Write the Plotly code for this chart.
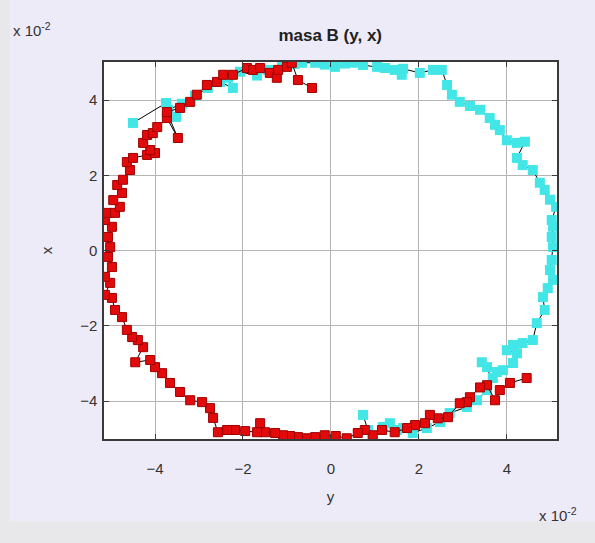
import plotly.graph_objects as go

# values in units of 1e-2
# cyan series: horizontal "y", vertical "x"
cyan_y = [-4.50, -3.75, -3.52, -3.70, -3.39, -3.09, -2.80, -2.52, -2.23, -2.34,
          -2.07, -1.68, -1.43, -1.11, -0.82, -0.66, -0.36, -0.14, 0.09, 0.32,
          0.50, 0.73, 1.05, 1.23, 1.45, 1.61, 1.64, 2.02, 2.32, 2.52,
          2.64, 2.75, 2.93, 3.16, 3.39, 3.61, 3.73, 3.84, 4.00, 4.23,
          4.41, 4.23, 4.36, 4.59, 4.75, 4.86, 4.98, 5.12, 5.02, 5.05,
          5.02, 5.05, 5.02, 4.98, 5.05, 4.93, 4.82, 4.86, 4.68, 4.59,
          4.36, 4.14, 4.00, 4.23, 4.14, 3.91, 3.77, 3.55, 3.43, 3.68,
          3.55, 3.32, 3.09, 2.70, 2.48, 2.18, 1.86, 1.64, 1.50, 1.34,
          1.18, 0.95, 0.84, 0.73]
cyan_x = [3.39, 3.92, 3.55, 3.74, 3.90, 4.11, 4.32, 4.48, 4.32, 4.59,
          4.75, 4.65, 4.80, 4.91, 4.96, 4.99, 4.99, 4.94, 4.88, 4.97,
          4.99, 4.93, 4.88, 4.85, 4.80, 4.67, 4.83, 4.72, 4.80, 4.80,
          4.40, 4.14, 3.95, 3.84, 3.74, 3.52, 3.34, 3.20, 2.93, 2.86,
          2.89, 2.46, 2.27, 2.14, 1.80, 1.61, 1.35, 1.16, 0.81, 0.63,
          0.36, 0.09, -0.25, -0.52, -0.78, -1.00, -1.24, -1.58, -1.93, -2.38,
          -2.46, -2.51, -2.65, -2.73, -2.99, -3.18, -3.23, -3.10, -2.97, -3.39,
          -3.71, -3.98, -4.16, -4.32, -4.56, -4.72, -4.85, -4.72, -4.77, -4.59,
          -4.69, -4.91, -4.77, -4.37]

# red series
red_y = [4.45, 4.07, 3.84, 3.73, 3.55, 3.39, 3.16, 3.09, 2.93, 2.66,
         2.43, 2.25, 2.14, 1.91, 1.73, 1.45, 1.16, 0.95, 0.77, 0.61,
         0.36, 0.11, -0.14, -0.36, -0.55, -0.75, -0.93, -1.09, -1.27, -1.50,
         -1.61, -1.68, -1.95, -2.18, -2.36, -2.57, -2.68, -2.75, -2.93, -3.20,
         -3.43, -3.66, -3.84, -4.00, -4.11, -4.45, -4.27, -4.39, -4.52, -4.64,
         -4.75, -4.91, -4.98, -5.14, -5.02, -5.14, -4.98, -5.07, -5.02, -5.07,
         -4.98, -5.14, -5.09, -4.91, -4.80, -4.95, -4.75, -4.86, -4.73, -4.57,
         -4.64, -4.50, -4.18, -4.00, -4.11, -4.27, -4.18, -4.05, -3.95, -3.73,
         -3.48, -3.73, -3.43, -3.20, -3.05, -2.82, -2.59, -2.45, -2.23, -1.91,
         -1.77, -1.61, -1.39, -1.23, -1.20, -1.00, -0.89, -0.75, -0.43]
red_x = [-3.39, -3.52, -3.71, -3.98, -3.58, -3.64, -3.90, -4.03, -4.06, -4.43,
         -4.46, -4.37, -4.59, -4.64, -4.72, -4.83, -4.77, -4.91, -4.77, -4.85,
         -4.99, -4.93, -4.91, -4.96, -4.99, -4.96, -4.93, -4.91, -4.85, -4.83,
         -4.59, -4.83, -4.80, -4.77, -4.77, -4.83, -4.45, -4.19, -4.03, -3.98,
         -3.76, -3.52, -3.26, -3.10, -2.91, -2.97, -2.57, -2.38, -2.30, -2.11,
         -1.77, -1.58, -1.26, -1.18, -0.86, -0.70, -0.44, -0.17, 0.09, 0.36,
         0.63, 0.81, 1.00, 1.00, 1.16, 1.34, 1.53, 1.74, 1.88, 2.14,
         2.35, 2.46, 2.54, 2.59, 2.67, 2.86, 3.07, 3.12, 3.28, 3.52,
         2.99, 3.68, 3.79, 3.95, 4.14, 4.40, 4.48, 4.67, 4.67, 4.85,
         4.80, 4.85, 4.72, 4.59, 4.80, 4.88, 4.99, 4.53, 4.32]

tick_vals = [-4, -2, 0, 2, 4]

fig = go.Figure()
fig.add_trace(go.Scatter(
    x=cyan_y, y=cyan_x, mode="lines+markers",
    line=dict(color="black", width=1),
    marker=dict(symbol="square", size=10, color="#42E6E6", line=dict(width=0)),
))
fig.add_trace(go.Scatter(
    x=red_y, y=red_x, mode="lines+markers",
    line=dict(color="black", width=1),
    marker=dict(symbol="square", size=9, color="#E20A0A", line=dict(color="#A00000", width=1)),
))

axis_common = dict(
    showgrid=True, gridcolor="#B4B4B4", gridwidth=1,
    showline=True, linecolor="#3A3A3A", linewidth=1.5, mirror="ticks",
    ticks="inside", ticklen=5, tickcolor="#3A3A3A",
    tickvals=tick_vals, zeroline=False, automargin=False,
    tickfont=dict(family="Liberation Sans, Arial", size=15, color="#333333"),
)

fig.update_layout(
    width=595, height=543,
    margin=dict(l=104, r=38, t=62, b=104),
    paper_bgcolor="#EEEBF8", plot_bgcolor="white",
    showlegend=False,
    font=dict(family="Liberation Sans, Arial", color="#333333"),
    title=dict(text="<b>masa B (y, x)</b>", x=0.555, xanchor="center",
               y=0.935, yanchor="middle",
               font=dict(size=17, color="#222222")),
    xaxis=dict(range=[-5.16, 5.14], ticklabelstandoff=15,
               title=dict(text="y", standoff=16, font=dict(size=15, color="#333333")),
               **axis_common),
    yaxis=dict(range=[-5.01, 5.01], ticklabelstandoff=2,
               title=dict(text="x", standoff=24, font=dict(size=15, color="#333333")),
               **axis_common),
    annotations=[
        dict(text="x 10<sup>-2</sup>", xref="paper", yref="paper", x=-0.205, y=1.055,
             xanchor="left", yanchor="bottom", showarrow=False,
             font=dict(size=15, color="#333333")),
        dict(text="x 10<sup>-2</sup>", xref="paper", yref="paper", x=0.955, y=-0.17,
             xanchor="left", yanchor="top", showarrow=False,
             font=dict(size=15, color="#333333")),
    ],
    shapes=[
        dict(type="rect", xref="paper", yref="paper", x0=-0.2296, x1=-0.208,
             y0=-0.276, y1=1.165, fillcolor="#E8E8EA", line=dict(width=0), layer="below"),
        dict(type="rect", xref="paper", yref="paper", x0=-0.2296, x1=1.084,
             y0=-0.276, y1=-0.218, fillcolor="#E8E8EA", line=dict(width=0), layer="below"),
    ],
)

fig.write_html("out.html", config={"displayModeBar": False},
               post_script="document.body.style.margin='0';")
